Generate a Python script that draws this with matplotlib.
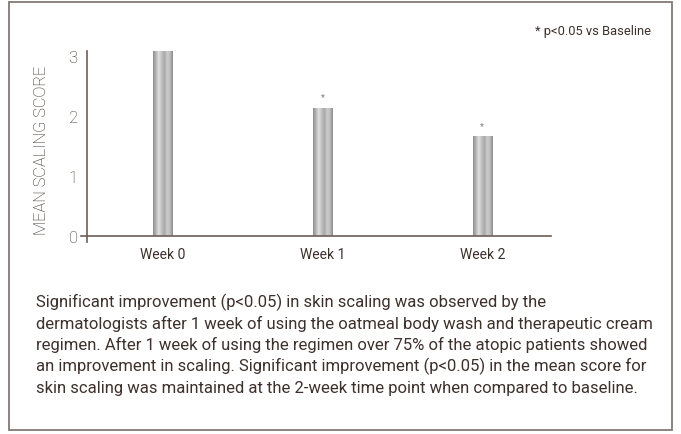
import numpy as np
import matplotlib.pyplot as plt
from matplotlib.patches import Rectangle
from matplotlib.colors import LinearSegmentedColormap

# data
weeks = ['Week 0', 'Week 1', 'Week 2']
scores = [3.08, 2.13, 1.65]
significant = [False, True, True]
yticks = [0, 1, 2, 3]

note = '* p<0.05 vs Baseline'
ylabel = 'MEAN SCALING SCORE'
caption = ['Significant improvement (p<0.05) in skin scaling was observed by the',
           'dermatologists after 1 week of using the oatmeal body wash and therapeutic cream',
           'regimen. After 1 week of using the regimen over 75% of the atopic patients showed',
           'an improvement in scaling. Significant improvement (p<0.05) in the mean score for',
           'skin scaling was maintained at the 2-week time point when compared to baseline.']

plt.rcParams['font.family'] = ['Roboto', 'DejaVu Sans']
txt = '#3e302b'
line = '#6e5d57'

fig = plt.figure(figsize=(6.81, 4.35), dpi=100)
fig.patch.set_facecolor('white')

# outer frame
fig.patches.append(Rectangle((9 / 681, 4 / 435), 663 / 681, 428 / 435, transform=fig.transFigure,
                             fill=False, edgecolor='#857873', linewidth=1.3))

ax = fig.add_axes([81 / 681, 192 / 435, 470 / 681, 191 / 435])

# cylinder-like grey shading for bars
shade = LinearSegmentedColormap.from_list('cyl', ['#8f8f8f', '#b5b5b5', '#e0e0e0', '#c2c2c2',
                                                  '#a8a8a8', '#cdcdcd', '#bdbdbd', '#8a8a8a'])
grad = np.linspace(0, 1, 64).reshape(1, -1)
w = 0.12
x = np.arange(len(weeks))
for xi, v, s in zip(x, scores, significant):
    ax.imshow(grad, cmap=shade, aspect='auto', extent=(xi - w / 2, xi + w / 2, 0, v),
              interpolation='bilinear', zorder=2)
    if s:
        ax.text(xi, v + 0.12, '*', ha='center', va='bottom', fontsize=6.5, color='#777777')
ax.set_xlim(-0.51, 2.43)
ax.set_ylim(-0.1, 3.08)

for sp in ['top', 'right']:
    ax.spines[sp].set_visible(False)
ax.spines['left'].set_position(('data', -0.47))
ax.spines['bottom'].set_position(('data', 0))
for sp in ['left', 'bottom']:
    ax.spines[sp].set_color(line)
    ax.spines[sp].set_linewidth(1.2)

ax.set_xticks(x)
ax.set_xticklabels(weeks)
ax.set_yticks(yticks)
ax.tick_params(axis='both', length=0, colors=txt)
ax.tick_params(axis='x', labelsize=10, pad=8)
ax.tick_params(axis='y', labelsize=12, pad=7)
for lbl in ax.get_yticklabels():
    lbl.set_fontweight('light')
ax.patch.set_visible(False)

fig.text(42 / 681, 1 - 150 / 435, ylabel, rotation=90, ha='center', va='center', fontsize=11.8,
         fontweight='light', color='#2e221e')
fig.text(651 / 681, 1 - 32 / 435, note, ha='right', va='center', fontsize=9.3, color=txt)

for i, ln in enumerate(caption):
    fig.text(36 / 681, 1 - (302 + i * 21.5) / 435, ln, ha='left', va='center', fontsize=12, color=txt)

fig.savefig('out.png', dpi=100)
